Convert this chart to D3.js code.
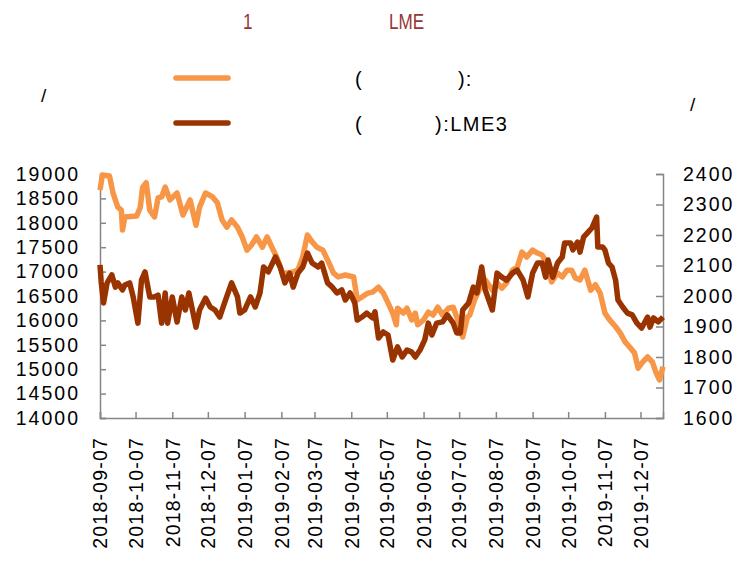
<!DOCTYPE html>
<html>
<head>
<meta charset="utf-8">
<script src="https://cdn.jsdelivr.net/npm/d3@7/dist/d3.min.js"></script>
<style>
  body { margin: 0; background: #fff; }
  text { font-family: "Liberation Sans", Arial, sans-serif; fill: #000; }
</style>
</head>
<body>
<svg id="chart"></svg>
<script>
// SHFE price (left axis)
const shfeDates = ['2018-09-07','2018-09-09','2018-09-15','2018-09-18','2018-09-22','2018-09-25','2018-09-26','2018-09-28',
  '2018-10-08','2018-10-11','2018-10-13','2018-10-16','2018-10-19','2018-10-23','2018-10-26','2018-10-29',
  '2018-11-01','2018-11-05','2018-11-11','2018-11-16','2018-11-22','2018-11-27','2018-11-30',
  '2018-12-05','2018-12-11','2018-12-15','2018-12-19','2018-12-23','2018-12-27',
  '2019-01-01','2019-01-05','2019-01-09','2019-01-13','2019-01-17','2019-01-22','2019-01-26','2019-01-30',
  '2019-02-03','2019-02-08','2019-02-14','2019-02-21','2019-02-25',
  '2019-03-01','2019-03-05','2019-03-09','2019-03-14','2019-03-18','2019-03-23','2019-03-27',
  '2019-04-02','2019-04-09','2019-04-12','2019-04-16','2019-04-21','2019-04-25','2019-04-30',
  '2019-05-04','2019-05-08','2019-05-12','2019-05-15','2019-05-16','2019-05-21','2019-05-24','2019-05-28','2019-05-31',
  '2019-06-02','2019-06-07','2019-06-11','2019-06-15','2019-06-19','2019-06-23','2019-06-28',
  '2019-07-02','2019-07-05','2019-07-08','2019-07-10','2019-07-14','2019-07-16','2019-07-20','2019-07-25','2019-07-29',
  '2019-08-04','2019-08-08','2019-08-12','2019-08-16','2019-08-21','2019-08-25','2019-08-29',
  '2019-09-02','2019-09-07','2019-09-11','2019-09-15','2019-09-19','2019-09-23','2019-09-28',
  '2019-10-02','2019-10-06','2019-10-10','2019-10-13','2019-10-17','2019-10-21','2019-10-26','2019-10-30',
  '2019-11-03','2019-11-07','2019-11-11','2019-11-16','2019-11-20','2019-11-24','2019-11-28',
  '2019-12-02','2019-12-05','2019-12-09','2019-12-13','2019-12-17','2019-12-20','2019-12-23','2019-12-26']
const shfeValues = [18670,18980,18960,18610,18320,18260,17850,18120,
  18140,18320,18730,18820,18260,18120,18510,18530,
  18730,18470,18610,18160,18470,17950,18320,
  18610,18530,18410,18060,17910,18060,
  17910,17710,17440,17550,17710,17500,17710,17500,
  17300,16970,16970,17030,17300,
  17750,17610,17500,17440,17240,16970,16890,
  16930,16890,16420,16480,16560,16580,16680,
  16560,16360,16150,15910,16250,16150,16250,16010,16150,
  15910,16010,16170,16110,16270,16110,16250,
  16270,16070,15840,15660,16070,16110,16420,16680,16830,
  16620,16770,16660,16770,17030,17090,17400,
  17300,17440,17380,17340,17180,16790,16970,
  16890,17030,17030,16870,16830,17030,16620,16730,
  16560,16150,16010,15870,15740,15560,15450,
  15330,15020,15150,15250,15150,14940,14780,15050]

// LME3 price (right axis)
const lmeDates = ['2018-09-07','2018-09-08','2018-09-10','2018-09-13','2018-09-17','2018-09-20','2018-09-22','2018-09-26','2018-09-28',
  '2018-10-02','2018-10-05','2018-10-09','2018-10-12','2018-10-15','2018-10-19','2018-10-23','2018-10-26','2018-10-29',
  '2018-11-01','2018-11-03','2018-11-07','2018-11-11','2018-11-15','2018-11-18','2018-11-21','2018-11-24','2018-11-27','2018-11-30',
  '2018-12-05','2018-12-09','2018-12-13','2018-12-17','2018-12-21','2018-12-27',
  '2019-01-01','2019-01-03','2019-01-07','2019-01-12','2019-01-16','2019-01-20','2019-01-23','2019-01-27',
  '2019-02-02','2019-02-06','2019-02-10','2019-02-14','2019-02-17','2019-02-21','2019-02-25',
  '2019-03-01','2019-03-05','2019-03-10','2019-03-13','2019-03-18','2019-03-22','2019-03-26','2019-03-30',
  '2019-04-02','2019-04-06','2019-04-10','2019-04-12','2019-04-16','2019-04-20','2019-04-25','2019-04-27','2019-04-30',
  '2019-05-04','2019-05-08','2019-05-12','2019-05-16','2019-05-20','2019-05-24','2019-05-28','2019-05-31',
  '2019-06-04','2019-06-08','2019-06-11','2019-06-14','2019-06-18','2019-06-23','2019-06-27',
  '2019-07-02','2019-07-05','2019-07-08','2019-07-10','2019-07-15','2019-07-19','2019-07-22','2019-07-26','2019-07-29',
  '2019-08-04','2019-08-08','2019-08-12','2019-08-16','2019-08-21','2019-08-25','2019-08-30',
  '2019-09-03','2019-09-07','2019-09-11','2019-09-15','2019-09-18','2019-09-20','2019-09-24','2019-09-28',
  '2019-10-02','2019-10-04','2019-10-09','2019-10-11','2019-10-15','2019-10-17','2019-10-20','2019-10-24','2019-10-27','2019-10-31',
  '2019-11-01','2019-11-05','2019-11-07','2019-11-10','2019-11-13','2019-11-16','2019-11-18','2019-11-22','2019-11-26','2019-11-30',
  '2019-12-04','2019-12-08','2019-12-13','2019-12-15','2019-12-18','2019-12-22','2019-12-26']
const lmeValues = [2102,2046,1977,2043,2069,2029,2043,2020,2036,
  2043,1997,1911,2052,2079,1997,1997,2003,1911,
  2010,1911,1997,1915,1997,1954,2010,1954,1898,1954,
  1993,1964,1954,1931,1977,2043,
  1997,1944,1954,1997,1964,2010,2095,2079,
  2128,2095,2043,2075,2029,2075,2095,
  2141,2108,2095,2108,2043,2029,2010,2020,
  1987,2010,1977,1921,1931,1944,1928,1948,1862,
  1882,1872,1790,1833,1800,1823,1816,1800,
  1823,1856,1911,1872,1911,1915,1938,
  1911,1879,1879,1954,1977,2029,2010,2095,2020,
  1954,2075,2062,2052,2075,2085,2052,
  1997,2075,2108,2108,2062,2118,2062,2108,
  2128,2174,2174,2151,2177,2144,2193,2210,2223,2259,
  2161,2161,2151,2108,2095,2052,1987,1964,1944,1938,
  1911,1895,1931,1898,1928,1915,1931]

const leftTicks = [14000,14500,15000,15500,16000,16500,17000,17500,18000,18500,19000]
const rightTicks = [1600,1700,1800,1900,2000,2100,2200,2300,2400]
const monthTicks = ['2018-09-07','2018-10-07','2018-11-07','2018-12-07','2019-01-07','2019-02-07','2019-03-07',
  '2019-04-07','2019-05-07','2019-06-07','2019-07-07','2019-08-07','2019-09-07','2019-10-07','2019-11-07','2019-12-07']

const width = 742
const height = 561
const parse = d3.timeParse('%Y-%m-%d')
const fmt = d3.timeFormat('%Y-%m-%d')

const svg = d3.select('#chart')
  .attr('width', width)
  .attr('height', height)

const plotLeft = 100, plotRight = 663, plotTop = 174, plotBottom = 418
const axisColor = '#868686'

const x = d3.scaleTime()
  .domain([parse('2018-09-07'), parse('2019-12-26')])
  .range([plotLeft, plotRight])
const yL = d3.scaleLinear().domain([14000, 19000]).range([plotBottom, plotTop])
const yR = d3.scaleLinear().domain([1600, 2400]).range([plotBottom, plotTop])

// title (CJK glyphs missing in the reference, only the latin parts show), narrow face
function titlePart (tx, ty, str) {
  svg.append('text')
    .attr('transform', `translate(${tx},${ty}) scale(0.76,1)`)
    .style('font-size', '22.5px')
    .style('fill', '#953735')
    .text(str)
}
titlePart(243, 29, '1')
titlePart(389, 29, 'LME')

// unit labels
svg.append('text').attr('x', 41).attr('y', 102).style('font-size', '19px').text('/')
svg.append('text').attr('x', 690).attr('y', 111).style('font-size', '19px').text('/')

// legend
const legend = svg.append('g')
legend.append('line').attr('x1', 176).attr('x2', 228).attr('y1', 78).attr('y2', 78)
  .attr('stroke', '#F79646').attr('stroke-width', 5.5).attr('stroke-linecap', 'round')
legend.append('line').attr('x1', 176).attr('x2', 228).attr('y1', 123).attr('y2', 123)
  .attr('stroke', '#993300').attr('stroke-width', 5.5).attr('stroke-linecap', 'round')
legend.append('text').attr('x', 355).attr('y', 86).style('font-size', '20px').text('(')
legend.append('text').attr('x', 458).attr('y', 86).style('font-size', '20px').style('letter-spacing', '1px').text('):')
legend.append('text').attr('x', 355).attr('y', 131).style('font-size', '20px').text('(')
legend.append('text').attr('x', 435).attr('y', 131).style('font-size', '20px').style('letter-spacing', '1.5px').text('):LME3')

// axes
const axL = svg.append('g')
  .attr('transform', `translate(${plotLeft},0)`)
  .call(d3.axisLeft(yL).tickValues(leftTicks).tickSize(-6).tickPadding(20).tickFormat(d3.format('d')))
const axR = svg.append('g')
  .attr('transform', `translate(${plotRight},0)`)
  .call(d3.axisRight(yR).tickValues(rightTicks).tickSize(-7).tickPadding(20).tickFormat(d3.format('d')))
const axB = svg.append('g')
  .attr('transform', `translate(0,${plotBottom})`)
  .call(d3.axisBottom(x).tickValues(monthTicks.map(parse)).tickSize(-6).tickFormat(fmt))

;[axL, axR, axB].forEach(a => {
  a.select('.domain').attr('stroke', axisColor).attr('stroke-width', 1.5)
  a.selectAll('.tick line').attr('stroke', axisColor).attr('stroke-width', 1.5)
  a.selectAll('text')
    .style('font-family', '"Liberation Sans", Arial, sans-serif')
    .style('font-size', '19.5px')
    .attr('fill', '#000')
})
axL.selectAll('text').style('letter-spacing', '2px')
axR.selectAll('text').style('letter-spacing', '2px')
axB.selectAll('text')
  .style('letter-spacing', '1.2px')
  .attr('text-anchor', 'end')
  .attr('dy', '0.35em')
  .attr('transform', 'translate(0,19) rotate(-90)')
  .attr('x', 0)
  .attr('y', 0)

// lines
const shfe = shfeDates.map((d, i) => ({ date: parse(d), value: shfeValues[i] }))
const lme = lmeDates.map((d, i) => ({ date: parse(d), value: lmeValues[i] }))

svg.append('path')
  .datum(shfe)
  .attr('fill', 'none')
  .attr('stroke', '#F79646')
  .attr('stroke-width', 5.5)
  .attr('stroke-linejoin', 'round')
  .attr('d', d3.line().x(d => x(d.date)).y(d => yL(d.value)))

svg.append('path')
  .datum(lme)
  .attr('fill', 'none')
  .attr('stroke', '#993300')
  .attr('stroke-width', 5.5)
  .attr('stroke-linejoin', 'round')
  .attr('d', d3.line().x(d => x(d.date)).y(d => yR(d.value)))
</script>
</body>
</html>
